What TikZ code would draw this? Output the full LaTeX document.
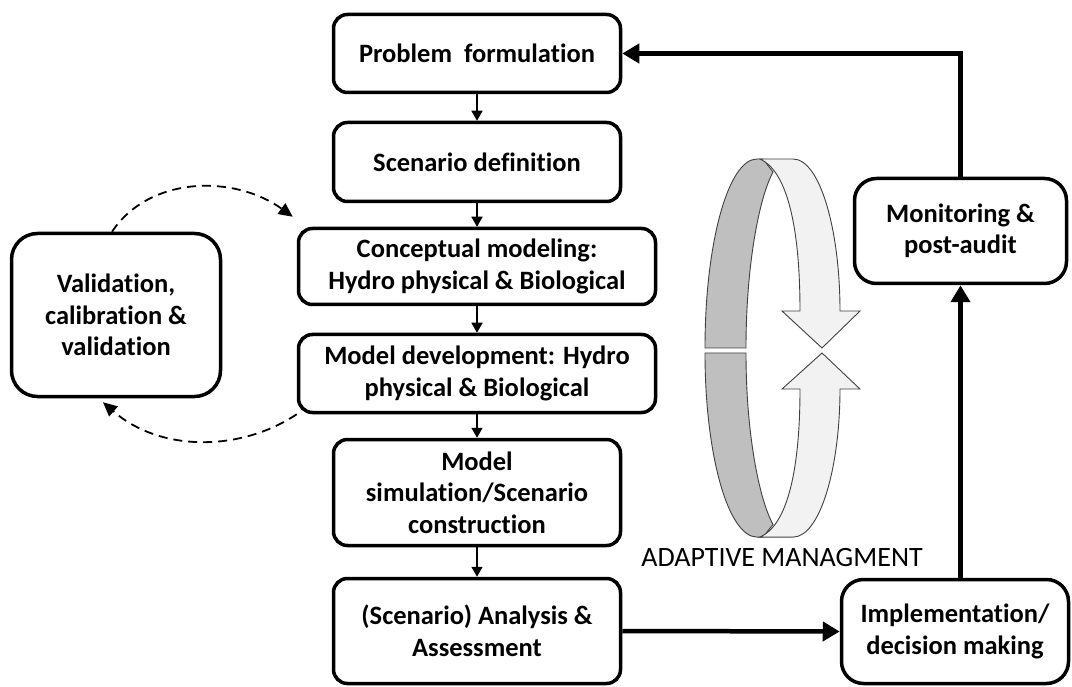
\documentclass[tikz,border=0pt]{standalone}
\usepackage{fontspec}
\setmainfont{Carlito}[Ligatures=NoCommon]
\usetikzlibrary{arrows.meta, calc}

\definecolor{ringdark}{RGB}{191,191,191}
\definecolor{ringlight}{RGB}{242,242,242}
\definecolor{ringedge}{RGB}{64,64,64}

% one half of the adaptive management ring (local units, h up from the gap)
\newcommand{\halfloop}{%
  \path[ringback] (705,0) .. controls (705,104) and (728,189) .. (757,189) -- (763,189) -- (773,176) .. controls (759,150) and (746,82) .. (746,0) -- cycle;
  \path[ringfront] (760,189) -- (793,189) .. controls (820,189) and (840,118) .. (840,37) -- (860,37) -- (822,0) -- (782,37) -- (800,37) .. controls (800,128) and (785,178) .. (760,189) -- cycle;
}

\begin{document}
\begin{tikzpicture}[x=1pt, y=-1pt,
    % Styles for each node type
    stage/.style={rectangle, rounded corners=14pt, draw=black, line width=3.5pt, align=center, font=\fontsize{26.5}{31.5}\selectfont\bfseries, inner sep=0pt, minimum width=287pt},
    widestage/.style={stage, minimum width=357pt},
    sidebox/.style={stage, rounded corners=26pt, minimum width=209pt, minimum height=163pt},
    actbox/.style={stage, rounded corners=22pt},
    ringback/.style={fill=ringdark, draw=ringedge, line width=0.9pt},
    ringfront/.style={fill=ringlight, draw=ringedge, line width=0.9pt},
    flow/.style={line width=1.6pt, -{Triangle[width=11pt,length=10pt]}},
    feedback/.style={line width=4.5pt, -{Triangle[width=19pt,length=17pt]}},
    loopback/.style={line width=1.8pt, dash pattern=on 9pt off 6pt, -{Triangle[width=13pt,length=14pt]}}
]
\useasboundingbox (0,0) rectangle (1072,687);

% Main column
\node[stage, minimum height=78pt]   (prob) at (477,53.5) {Problem~~formulation};
\node[stage, minimum height=79pt]   (scen) at (477,162)  {Scenario definition};
\node[widestage, minimum height=76pt] (conc) at (477,266.5) {Conceptual modeling:\\Hydro physical \& Biological};
\node[widestage, minimum height=78pt] (mdev) at (477,373.5) {Model development: Hydro\\physical \& Biological};
\node[stage, minimum height=106pt]  (msim) at (477,492.5) {Model\\simulation/Scenario\\construction};
\node[stage, minimum height=105pt]  (anal) at (477,631)  {(Scenario) Analysis \&\\Assessment};

% Side box
\node[sidebox] (valid) at (116,315) {Validation,\\calibration \&\\validation};

% Right column
\node[actbox, minimum width=212pt, minimum height=105pt] (mon)  at (960.5,231) {Monitoring \&\\post-audit};
\node[actbox, minimum width=227pt, minimum height=104pt] (impl) at (955,631.5) {Implementation/\\decision making};

% Adaptive management ring
\begin{scope}[shift={(0,348)}, yscale=-1]
  \halfloop
\end{scope}
\begin{scope}[shift={(0,353)}, yscale=0.974]
  \halfloop
\end{scope}
\node[font=\fontsize{28}{32}\selectfont] (adapt) at (782,558) {ADAPTIVE MANAGMENT};

% Connectors down the main column
\draw[flow] (prob) -- (scen);
\draw[flow] (scen) -- (conc);
\draw[flow] (conc) -- (mdev);
\draw[flow] (mdev) -- (msim);
\draw[flow] (msim) -- (anal);

% Calibration loop
\draw[loopback] ($(valid.north)+(-4,0)$) .. controls (150,175) and (235,175) .. ($(conc.north west)+(-4,-10)$);
\draw[loopback] (mdev.south west) .. controls (240,452) and (160,452) .. ($(valid.south)+(-13,4)$);

% Adaptive management feedback
\draw[feedback] (anal.east) -- (impl.west);
\draw[feedback] (impl.north -| mon.south) -- (mon.south);
\draw[feedback] (mon.north) -- (mon.north |- prob.east) -- (prob.east);

\end{tikzpicture}
\end{document}
